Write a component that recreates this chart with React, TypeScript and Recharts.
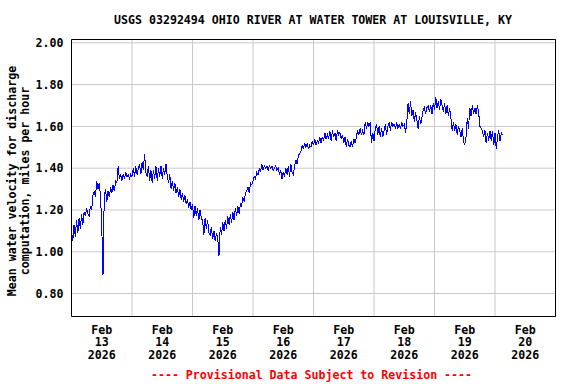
import React from "react";
import {
  LineChart,
  Line,
  XAxis,
  YAxis,
  CartesianGrid,
  ReferenceArea,
} from "recharts";

// Half-hourly values (mph), one array per day starting at 00:00
const feb13 = [
  1.10, 1.05, 1.13, 1.07, 1.15, 1.09, 1.16, 1.11, 1.18, 1.13, 1.19, 1.17,
  1.21, 1.18, 1.17, 1.22, 1.20, 1.27, 1.29, 1.26, 1.34, 1.30, 1.33, 1.27,
  1.12, 0.89, 1.27, 1.30, 1.24, 1.29, 1.26, 1.31, 1.28, 1.32, 1.29, 1.34,
  1.33, 1.41, 1.35, 1.37, 1.34, 1.37, 1.35, 1.38, 1.36, 1.37, 1.35, 1.37,
];
const feb14 = [
  1.36, 1.40, 1.36, 1.41, 1.37, 1.40, 1.42, 1.37, 1.43, 1.39, 1.47, 1.38,
  1.36, 1.41, 1.34, 1.39, 1.33, 1.39, 1.35, 1.41, 1.34, 1.40, 1.36, 1.41,
  1.35, 1.40, 1.37, 1.42, 1.36, 1.33, 1.37, 1.30, 1.34, 1.29, 1.33, 1.28,
  1.31, 1.26, 1.30, 1.25, 1.28, 1.24, 1.27, 1.23, 1.25, 1.21, 1.24, 1.20,
];
const feb15 = [
  1.23, 1.16, 1.22, 1.17, 1.21, 1.15, 1.20, 1.16, 1.15, 1.08, 1.16, 1.11,
  1.15, 1.09, 1.08, 1.12, 1.06, 1.10, 1.05, 1.09, 1.07, 0.98, 1.12, 1.08,
  1.14, 1.10, 1.15, 1.11, 1.17, 1.13, 1.18, 1.14, 1.19, 1.15, 1.21, 1.17,
  1.22, 1.18, 1.23, 1.22, 1.26, 1.24, 1.28, 1.29, 1.31, 1.28, 1.33, 1.32,
];
const feb16 = [
  1.34, 1.36, 1.35, 1.38, 1.37, 1.40, 1.38, 1.42, 1.39, 1.41, 1.40, 1.41,
  1.39, 1.41, 1.40, 1.41, 1.39, 1.40, 1.41, 1.39, 1.40, 1.37, 1.39, 1.35,
  1.38, 1.36, 1.40, 1.37, 1.41, 1.36, 1.42, 1.38, 1.37, 1.41, 1.44, 1.42,
  1.46, 1.47, 1.48, 1.51, 1.49, 1.52, 1.50, 1.52, 1.49, 1.51, 1.50, 1.53,
];
const feb17 = [
  1.51, 1.54, 1.51, 1.53, 1.52, 1.55, 1.52, 1.55, 1.53, 1.57, 1.54, 1.56,
  1.54, 1.58, 1.53, 1.58, 1.55, 1.57, 1.53, 1.58, 1.56, 1.57, 1.54, 1.56,
  1.52, 1.55, 1.50, 1.54, 1.51, 1.50, 1.53, 1.50, 1.54, 1.52, 1.55, 1.58,
  1.56, 1.59, 1.56, 1.58, 1.56, 1.62, 1.59, 1.62, 1.60, 1.62, 1.52, 1.57,
];
const feb18 = [
  1.53, 1.59, 1.61, 1.56, 1.60, 1.55, 1.59, 1.55, 1.58, 1.61, 1.56, 1.60,
  1.62, 1.58, 1.62, 1.60, 1.61, 1.59, 1.62, 1.59, 1.61, 1.59, 1.62, 1.60,
  1.61, 1.57, 1.62, 1.71, 1.66, 1.72, 1.65, 1.68, 1.62, 1.67, 1.63, 1.59,
  1.65, 1.61, 1.64, 1.68, 1.69, 1.66, 1.69, 1.70, 1.67, 1.70, 1.66, 1.71,
];
const feb19 = [
  1.68, 1.74, 1.69, 1.72, 1.68, 1.73, 1.70, 1.67, 1.71, 1.66, 1.70, 1.65,
  1.69, 1.64, 1.58, 1.62, 1.58, 1.61, 1.56, 1.60, 1.58, 1.55, 1.59, 1.53,
  1.51, 1.55, 1.64, 1.59, 1.69, 1.65, 1.70, 1.66, 1.69, 1.66, 1.70, 1.67,
  1.60, 1.59, 1.58, 1.55, 1.58, 1.52, 1.57, 1.53, 1.58, 1.53, 1.58, 1.51,
];
const feb20 = [1.57, 1.49, 1.55, 1.58, 1.53, 1.57, 1.56];

const days = [feb13, feb14, feb15, feb16, feb17, feb18, feb19, feb20];
const dayLabels = ["13", "14", "15", "16", "17", "18", "19", "20"];
const yTicks = [0.8, 1.0, 1.2, 1.4, 1.6, 1.8, 2.0];
const xLabelTicks = [12, 36, 60, 84, 108, 132, 156, 180];
const midnightTicks = [24, 48, 72, 96, 120, 144, 168];

const data = days.flatMap((arr, d) =>
  arr.map((v, i) => ({ h: d * 24 + i * 0.5, v }))
);

const FONT = "'DejaVu Sans Mono', monospace";

const XTick = (props: any) => {
  const { x, y, payload } = props;
  const idx = xLabelTicks.indexOf(payload.value);
  return (
    <g>
      <text
        x={x}
        y={y}
        textAnchor="middle"
        fontFamily={FONT}
        fontWeight="bold"
        fontSize={11.6}
        fill="#000"
      >
        <tspan x={x} dy={17}>Feb</tspan>
        <tspan x={x} dy={12.5}>{dayLabels[idx]}</tspan>
        <tspan x={x} dy={12.5}>2026</tspan>
      </text>
    </g>
  );
};

export default function App() {
  return (
    <div
      style={{
        position: "absolute",
        left: 0,
        top: 0,
        width: 576,
        height: 384,
        background: "#fff",
      }}
    >
      <LineChart
        width={576}
        height={384}
        data={data}
        margin={{ top: 39.5, right: 20.5, left: 0, bottom: 0 }}
      >
        <XAxis
          xAxisId="grid"
          type="number"
          dataKey="h"
          domain={[0, 192]}
          ticks={midnightTicks}
          hide
        />
        <CartesianGrid
          xAxisId="grid"
          stroke="#c8c8c8"
          strokeWidth={1}
        />
        <XAxis
          dataKey="h"
          type="number"
          domain={[0, 192]}
          ticks={xLabelTicks}
          interval={0}
          tick={<XTick />}
          tickLine={false}
          axisLine={false}
          tickSize={0}
          tickMargin={0}
          height={67.5}
          allowDataOverflow
        />
        <YAxis
          type="number"
          domain={[0.69, 2.016]}
          ticks={yTicks}
          interval={0}
          tickFormatter={(v: number) => v.toFixed(2)}
          tickLine={false}
          axisLine={false}
          tickSize={0}
          tickMargin={8}
          width={71.5}
          allowDataOverflow
          tick={{
            fontFamily: FONT,
            fontWeight: "bold",
            fontSize: 11.6,
            fill: "#000",
          }}
        />
        <Line
          type="linear"
          dataKey="v"
          stroke="#0000ff"
          strokeWidth={1}
          dot={false}
          shapeRendering="crispEdges"
          isAnimationActive={false}
        />
        <ReferenceArea
          x1={0}
          x2={192}
          y1={0.69}
          y2={2.016}
          fill="none"
          fillOpacity={0}
          stroke="#000"
          strokeWidth={1}
          ifOverflow="visible"
        />
      </LineChart>
      <svg
        width={576}
        height={384}
        style={{ position: "absolute", left: 0, top: 0, pointerEvents: "none" }}
      >
        <text
          x={313}
          y={24}
          textAnchor="middle"
          fontFamily={FONT}
          fontWeight="bold"
          fontSize={11.6}
          fill="#000"
        >
          USGS 03292494 OHIO RIVER AT WATER TOWER AT LOUISVILLE, KY
        </text>
        <text
          transform="translate(16,181) rotate(-90)"
          textAnchor="middle"
          fontFamily={FONT}
          fontWeight="bold"
          fontSize={11.6}
          fill="#000"
        >
          Mean water velocity for discharge
        </text>
        <text
          transform="translate(29,181) rotate(-90)"
          textAnchor="middle"
          fontFamily={FONT}
          fontWeight="bold"
          fontSize={11.6}
          fill="#000"
        >
          computation, miles per hour
        </text>
        <text
          x={311.5}
          y={379}
          textAnchor="middle"
          fontFamily={FONT}
          fontWeight="bold"
          fontSize={11.6}
          fill="#ff0000"
        >
          ---- Provisional Data Subject to Revision ----
        </text>
      </svg>
    </div>
  );
}
